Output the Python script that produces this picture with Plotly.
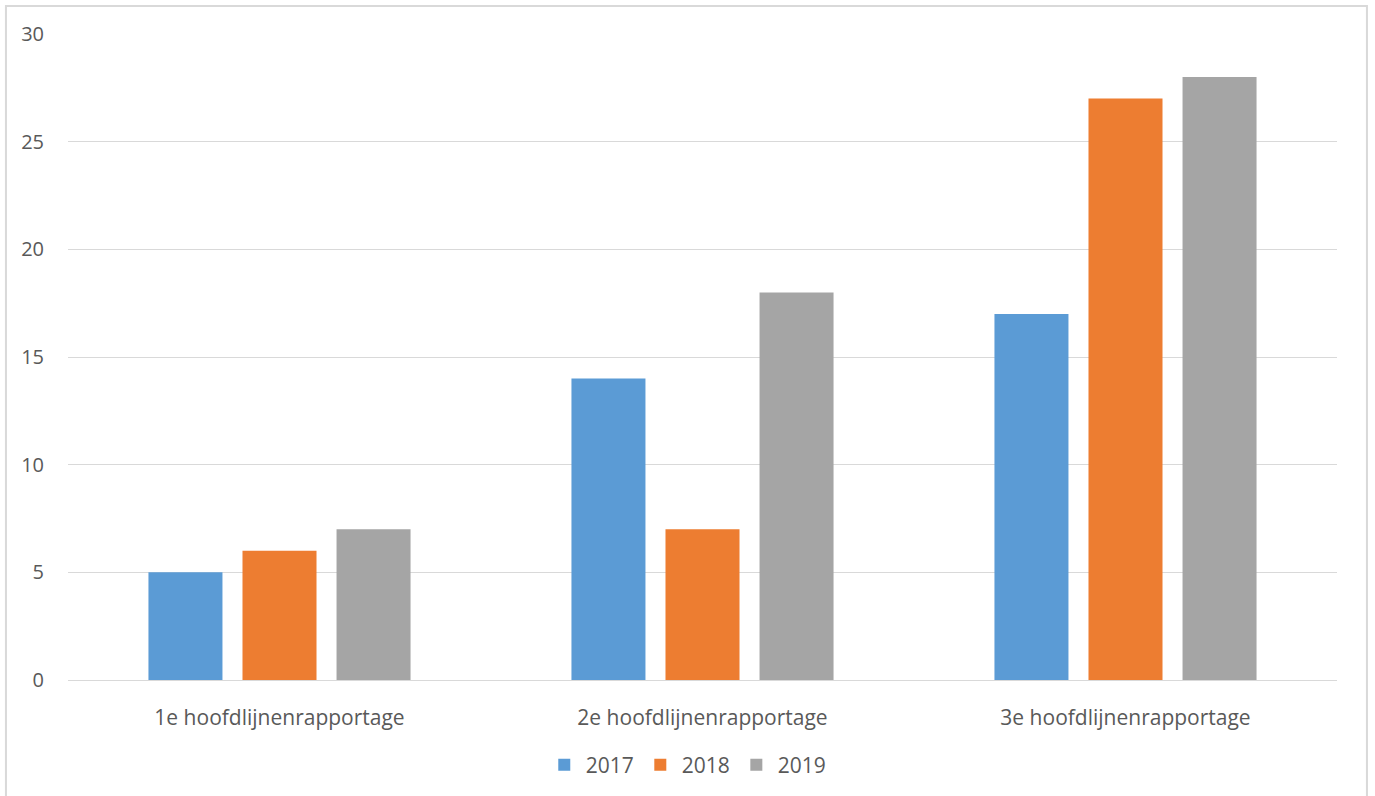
import plotly.graph_objects as go

categories = ["1e hoofdlijnenrapportage", "2e hoofdlijnenrapportage", "3e hoofdlijnenrapportage"]
series_names = ["2017", "2018", "2019"]
values_2017 = [5, 14, 17]
values_2018 = [6, 7, 27]
values_2019 = [7, 18, 28]
colors = ["#5B9BD5", "#ED7D31", "#A5A5A5"]

fig = go.Figure()
for name, vals, col in zip(series_names, [values_2017, values_2018, values_2019], colors):
    fig.add_trace(go.Bar(x=categories, y=vals, name=name, marker=dict(color=col, line=dict(width=0))))

font_family = "'Open Sans', sans-serif"
fig.update_layout(
    width=1375, height=796,
    margin=dict(l=68, r=38, t=34, b=115),
    paper_bgcolor="white", plot_bgcolor="white",
    barmode="group", bargap=0.333, bargroupgap=0.213,
    font=dict(family=font_family, size=21, color="#595959"),
    showlegend=True,
    legend=dict(orientation="h", x=0.488, xanchor="center", y=-0.13, yanchor="middle",
                font=dict(size=21, color="#595959"), itemwidth=33, traceorder="normal"),
    xaxis=dict(showgrid=False, showline=True, linecolor="#D9D9D9", linewidth=1,
               ticks="", tickfont=dict(size=21, color="#595959"), ticklabelstandoff=19),
    yaxis=dict(range=[0, 30], dtick=5, showgrid=True, gridcolor="#D9D9D9", gridwidth=1,
               zeroline=False, showline=False, ticks="",
               tickfont=dict(size=20, color="#595959"), ticklabelstandoff=23),
)
fig.add_shape(type="rect", xref="paper", yref="paper",
              x0=-0.0489, x1=1.0236, y0=-0.19, y1=1.0433,
              line=dict(color="#D9D9D9", width=2), fillcolor="rgba(0,0,0,0)", layer="below")
fig.write_html("out.html", config={"displayModeBar": False},
               post_script="document.body.style.margin='0';")
